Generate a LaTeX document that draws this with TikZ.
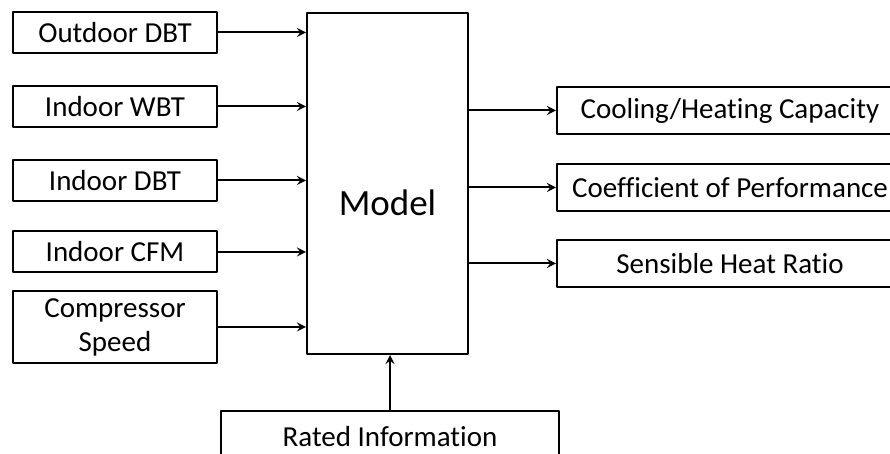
\documentclass[tikz,border=0pt]{standalone}
\usepackage{fontspec}
\setmainfont{Carlito}[Ligatures=CommonOff]
\usetikzlibrary{arrows, calc}

\begin{document}
\begin{tikzpicture}[x=0.5pt,y=-0.5pt,line join=round,>=stealth,line width=1pt,
  font=\fontsize{14.5}{17}\selectfont,
  box/.style={draw,line width=1pt,inner sep=0pt,align=center,fill=white},
  inbox/.style={box,minimum width=102pt,minimum height=20.5pt},
  outbox/.style={box,minimum width=173pt,minimum height=23.5pt}]
\useasboundingbox (0,0) rectangle (890,454);
\path
(115,32.5) coordinate (P1)
(115,106.5) coordinate (P2)
(115,180.5) coordinate (P3)
(115,252) coordinate (P4)
(115,327) coordinate (P5)
(730,110.5) coordinate (Q1)
(730,187.5) coordinate (Q2)
(730,263.5) coordinate (Q3)
;
% model block
\node[box,minimum width=80.5pt,minimum height=170.5pt] (model) at (387.5,183.5) {};
\node[font=\fontsize{18.5}{22}\selectfont] (modeltxt) at ($(model.center)+(0,19)$) {Model};
% inputs
\node[inbox] (in1) at (P1) {Outdoor DBT};
\node[inbox] (in2) at (P2) {Indoor WBT};
\node[inbox] (in3) at (P3) {Indoor DBT};
\node[inbox] (in4) at (P4) {Indoor CFM};
\node[inbox,minimum height=36pt] (in5) at (P5) {Compressor\\Speed};
\foreach \i in {1,...,5}
{\draw[->] (in\i.east)--(in\i.east -| model.west);}
% outputs
\node[outbox] (out1) at (Q1) {Cooling/Heating Capacity};
\node[outbox] (out2) at (Q2) {Coefficient of Performance};
\node[outbox] (out3) at (Q3) {Sensible Heat Ratio};
\foreach \i in {1,2,3}
{\draw[->] (out\i.west -| model.east)--(out\i.west);}
% rated information
\node[box,minimum width=169pt,minimum height=26pt] (rated) at (390,437) {Rated Information};
\draw[->] (rated.north)--(rated.north |- model.south);
\end{tikzpicture}
\end{document}
